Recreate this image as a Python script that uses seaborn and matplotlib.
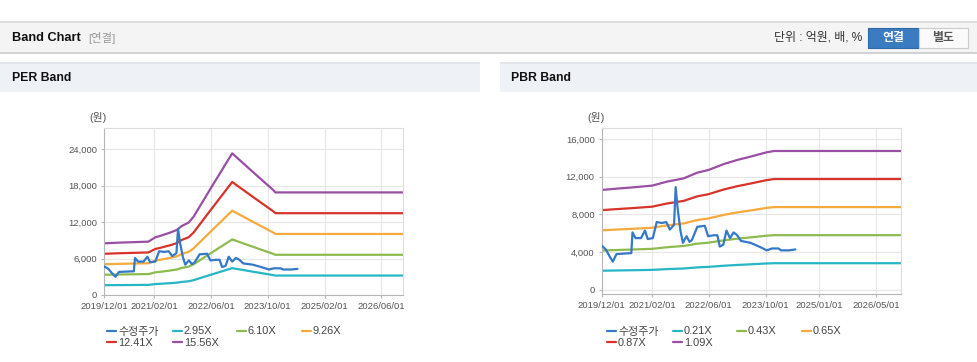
import matplotlib
matplotlib.use("Agg")
import matplotlib.pyplot as plt
import matplotlib.dates as mdates
from matplotlib.patches import Rectangle
from matplotlib.ticker import FuncFormatter
import pandas as pd
import seaborn as sns

# ---- data ----
price_dates = ["2019-12-01", "2020-01-05", "2020-02-05", "2020-03-05", "2020-04-05",
               "2020-07-25", "2020-08-10", "2020-08-20", "2020-09-15", "2020-11-01",
               "2020-12-05", "2020-12-28", "2021-02-10", "2021-03-15", "2021-04-28",
               "2021-06-05", "2021-07-05", "2021-08-10", "2021-08-24", "2021-09-10",
               "2021-10-05", "2021-10-25", "2021-11-25", "2021-12-20", "2022-01-10",
               "2022-02-25", "2022-04-30", "2022-05-28", "2022-07-15", "2022-08-15",
               "2022-09-05", "2022-10-05", "2022-11-01", "2022-12-01", "2023-01-01",
               "2023-02-01", "2023-03-05", "2023-05-25", "2023-07-20", "2023-09-10",
               "2023-10-10", "2023-11-25", "2024-01-20", "2024-02-10", "2024-04-20",
               "2024-06-12"]
price = [4700, 4300, 3600, 3000, 3800, 3900, 3900, 6100, 5500, 5500,
         6300, 5400, 5500, 7200, 7100, 7200, 6400, 6900, 10900, 8600,
         6200, 5000, 5700, 5100, 5300, 6700, 6800, 5700, 5800, 5800,
         4600, 4800, 6300, 5500, 6100, 5800, 5200, 5000, 4700, 4400,
         4200, 4400, 4400, 4200, 4200, 4300]

per_dates = ["2019-12-01", "2020-04-01", "2020-12-13", "2021-02-10", "2021-03-22",
             "2021-06-16", "2021-08-13", "2021-09-25", "2021-11-22", "2022-01-04",
             "2022-06-01", "2022-12-01", "2023-06-03", "2023-11-17", "2023-12-06",
             "2026-12-01"]
per_labels = ["2.95X", "6.10X", "9.26X", "12.41X", "15.56X"]
per_2_95 = [1614, 1634, 1667, 1802, 1844, 1947, 2030, 2156, 2260, 2446, 3336, 4425, 3820, 3280, 3204, 3204]
per_6_10 = [3337, 3379, 3447, 3727, 3813, 4026, 4197, 4459, 4673, 5057, 6899, 9150, 7900, 6783, 6625, 6625]
per_9_26 = [5065, 5130, 5232, 5658, 5788, 6112, 6371, 6769, 7093, 7677, 10473, 13890, 11992, 10297, 10056, 10056]
per_12_41 = [6788, 6875, 7012, 7583, 7756, 8191, 8538, 9072, 9506, 10288, 14036, 18615, 16071, 13800, 13477, 13477]
per_15_56 = [8511, 8620, 8791, 9507, 9725, 10270, 10705, 11374, 11919, 12899, 17598, 23340, 20150, 17303, 16898, 16898]

pbr_dates = ["2019-12-01", "2020-04-07", "2020-08-28", "2021-02-04", "2021-06-10",
             "2021-11-01", "2022-02-24", "2022-06-01", "2022-10-10", "2023-02-01",
             "2023-05-25", "2023-10-10", "2023-12-13", "2026-12-01"]
pbr_labels = ["0.21X", "0.43X", "0.65X", "0.87X", "1.09X"]
pbr_0_21 = [2042, 2069, 2096, 2131, 2212, 2279, 2395, 2451, 2572, 2655, 2722, 2811, 2838, 2838]
pbr_0_43 = [4182, 4237, 4292, 4363, 4529, 4667, 4904, 5018, 5267, 5436, 5574, 5756, 5811, 5811]
pbr_0_65 = [6321, 6404, 6488, 6596, 6846, 7054, 7413, 7586, 7961, 8217, 8426, 8700, 8784, 8784]
pbr_0_87 = [8461, 8572, 8684, 8828, 9163, 9442, 9921, 10153, 10656, 10999, 11278, 11645, 11757, 11757]
pbr_1_09 = [10600, 10740, 10880, 11060, 11480, 11830, 12430, 12720, 13350, 13780, 14130, 14590, 14730, 14730]

per_ticks = ["2019-12-01", "2021-02-01", "2022-06-01", "2023-10-01", "2025-02-01", "2026-06-01"]
pbr_ticks = ["2019-12-01", "2021-02-01", "2022-06-01", "2023-10-01", "2025-01-01", "2026-05-01"]

price_name = "수정주가"
band_colors = ["#27b6c6", "#8dbb4f", "#f5aa3c", "#d7332a", "#994fa3"]
price_color = "#3578c8"

sns.set_style("white")
plt.rcParams["font.family"] = ["Liberation Sans", "Noto Sans CJK KR"]

W, H = 978, 362
fig = plt.figure(figsize=(W / 100, H / 100), dpi=100)


def box(x0, y0, x1, y1, **kw):
    fig.add_artist(Rectangle((x0 / W, 1 - y1 / H), (x1 - x0) / W, (y1 - y0) / H,
                             transform=fig.transFigure, **kw))


def txt(x, y, s, **kw):
    fig.text(x / W, 1 - y / H, s, va="center", **kw)


# header bar
box(0, 22, W, 52, facecolor="#f4f4f4", edgecolor="none")
box(0, 21.5, W, 22.5, facecolor="#dedede", edgecolor="none")
box(0, 52, W, 54, facecolor="#d2d2d2", edgecolor="none")
txt(12, 38, "Band Chart", fontsize=9.2, fontweight="bold", color="#111")
txt(88, 38, "[연결]", fontsize=8.2, color="#999")
txt(862, 38, "단위 : 억원, 배, %", fontsize=8.6, color="#333", ha="right")
box(868, 28.5, 919, 47.5, facecolor="#3a7bc1", edgecolor="#2e69a8", linewidth=0.8)
box(919, 28.5, 968, 47.5, facecolor="#fafafa", edgecolor="#cccccc", linewidth=0.8)
txt(893.5, 38, "연결", fontsize=8.6, color="white", ha="center", fontweight="bold")
txt(943.5, 38, "별도", fontsize=8.6, color="#555", ha="center", fontweight="bold")

# panel headers
box(0, 63, 480, 92, facecolor="#eef1f6", edgecolor="none")
box(500, 63, W, 92, facecolor="#eef1f6", edgecolor="none")
box(0, 62.5, 480, 63.5, facecolor="#e2e5ea", edgecolor="none")
box(500, 62.5, W, 63.5, facecolor="#e2e5ea", edgecolor="none")
txt(12, 78, "PER Band", fontsize=8.8, fontweight="bold", color="#111")
txt(511, 78, "PBR Band", fontsize=8.8, fontweight="bold", color="#111")


def panel(rect, dates, bands, labels, ylim, yticks, xticks, unit_x, legend_x):
    ax = fig.add_axes(rect)
    rows = []
    for lab, vals in zip(labels, bands):
        rows.append(pd.DataFrame({"date": pd.to_datetime(dates), "value": vals, "series": lab}))
    df = pd.concat(rows, ignore_index=True)
    sns.lineplot(data=df, x="date", y="value", hue="series", hue_order=labels,
                 palette=dict(zip(labels, band_colors)), estimator=None,
                 linewidth=1.6, ax=ax, legend=True)
    pdf = pd.DataFrame({"date": pd.to_datetime(price_dates), "value": price})
    sns.lineplot(data=pdf, x="date", y="value", color=price_color, linewidth=1.6,
                 estimator=None, ax=ax, label=price_name, zorder=5)
    handles, labs = ax.get_legend_handles_labels()
    ax.get_legend().remove()
    hd = dict(zip(labs, handles))
    # legend laid out row-wise: 4 entries on first row, rest below
    names = [price_name] + labels
    columns = [[names[0], names[4]], [names[1], names[5]], [names[2]], [names[3]]]
    offsets = [0, 66, 130, 195]
    for col, off in zip(columns, offsets):
        fig.legend([hd[n] for n in col], col, loc="upper left",
                   bbox_to_anchor=((legend_x + off) / W, 1 - 326.5 / H),
                   frameon=False, fontsize=7.9, handlelength=0.8, handletextpad=0.2,
                   labelspacing=0.15, borderpad=0, borderaxespad=0, labelcolor="#444")

    ax.set_xlim(pd.Timestamp("2019-12-01"), pd.Timestamp("2026-12-01"))
    ax.set_ylim(*ylim)
    ax.set_yticks(yticks)
    ax.set_xticks(pd.to_datetime(xticks))
    ax.xaxis.set_major_formatter(mdates.DateFormatter("%Y/%m/%d"))
    ax.yaxis.set_major_formatter(FuncFormatter(lambda v, p: f"{int(v):,}"))
    ax.grid(True, color="#e6e6e6", linewidth=0.8)
    ax.set_axisbelow(True)
    ax.set_xlabel("")
    ax.set_ylabel("")
    for s in ["top", "right"]:
        ax.spines[s].set_color("#dddddd")
        ax.spines[s].set_linewidth(0.8)
    for s in ["left", "bottom"]:
        ax.spines[s].set_color("#b5b5b5")
        ax.spines[s].set_linewidth(0.8)
    ax.tick_params(axis="both", labelsize=6.8, labelcolor="#555", color="#b5b5b5",
                   length=2.5, width=0.8, direction="out", left=True, bottom=True, pad=2.5)
    txt(unit_x, 117.5, "(원)", fontsize=7.8, color="#555", ha="center")
    return ax


panel([104.3 / W, (H - 295) / H, 298.4 / W, 167.3 / H], per_dates,
      [per_2_95, per_6_10, per_9_26, per_12_41, per_15_56], per_labels,
      (0, 27560), [0, 6000, 12000, 18000, 24000], per_ticks, 98, 107)
panel([601.7 / W, (H - 294.3) / H, 299.3 / W, 166 / H], pbr_dates,
      [pbr_0_21, pbr_0_43, pbr_0_65, pbr_0_87, pbr_1_09], pbr_labels,
      (-456, 17134), [0, 4000, 8000, 12000, 16000], pbr_ticks, 596, 607)

fig.savefig("out.png", dpi=100)
